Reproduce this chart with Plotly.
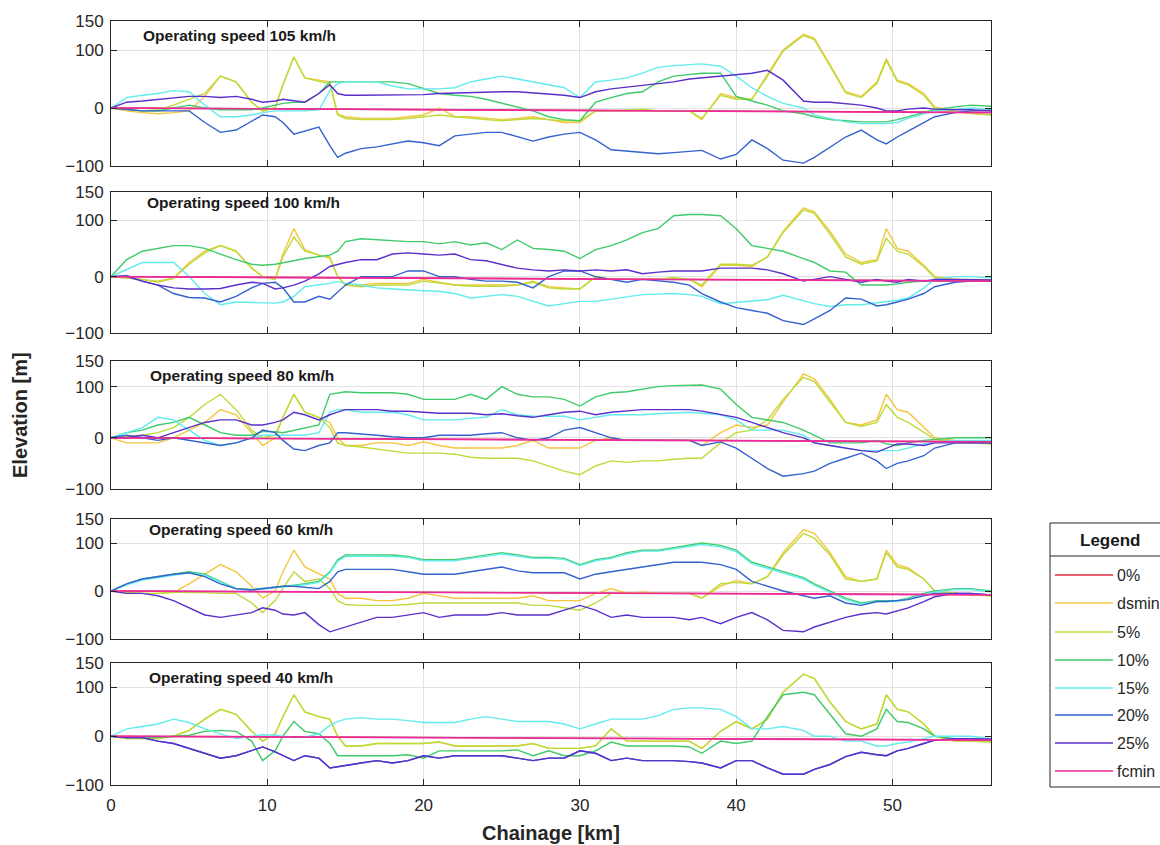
import plotly.graph_objects as go

# ---------------- data ----------------
KM = [0, 1, 2, 3, 4, 5, 6, 7, 8, 9,
      9.7, 10.5, 11, 11.7, 12.4, 13.3, 14, 14.5, 15, 16,
      17, 18, 19, 20, 21, 22, 23, 24, 25, 26,
      27, 28, 29, 30, 31, 32, 33, 34, 35, 36,
      37, 37.8, 39, 40, 41, 42, 43, 44.3, 45, 46,
      47, 48, 49, 49.6, 50.3, 51, 52, 52.7, 54, 55, 56.3]

FC_KM = [0, 14, 28, 42, 56.3]
FCMIN = [0, -2, -4, -6, -8]
ZERO_PCT = [0, -1.5, -3.5, -5.5, -7.5]

SERIES_NAMES = ["0%", "dsmin", "5%", "10%", "15%", "20%", "25%", "fcmin"]
PANEL_TITLES = ["Operating speed 105 km/h", "Operating speed 100 km/h",
                "Operating speed 80 km/h", "Operating speed 60 km/h",
                "Operating speed 40 km/h"]
X_TICKS = [0, 10, 20, 30, 40, 50]
Y_TICKS = [-100, 0, 100, 150]

# 105 km/h
V105_DSMIN = [0, -5, -8, -10, -8, -5, 20, 55, 45, 10,
              -5, 0, 40, 88, 52, 48, 45, -10, -15, -18,
              -18, -18, -15, -12, 0, -15, -15, -18, -20, -18,
              -15, -20, -25, -25, -5, -5, -5, -3, -5, -5,
              -5, -20, 25, 18, 15, 58, 100, 127, 120, 75,
              28, 20, 45, 85, 48, 42, 25, 2, -6, -9, -12]
V105_5 = [0, -3, -5, -3, 5, 15, 25, 55, 45, 10,
          -5, 0, 40, 88, 52, 46, 42, -12, -18, -20,
          -20, -20, -18, -15, -12, -15, -18, -20, -22, -20,
          -18, -20, -22, -22, -5, -5, -3, -2, -5, -5,
          -5, -18, 22, 15, 15, 55, 98, 125, 118, 72,
          26, 18, 42, 82, 46, 40, 22, 0, -6, -9, -12]
V105_10 = [0, -3, -5, -5, 0, 5, 0, -3, -3, -3,
           0, 5, 8, 10, 10, 25, 45, 45, 45, 45,
           45, 45, 42, 33, 25, 22, 20, 15, 8, 2,
           -5, -15, -20, -22, 10, 18, 25, 28, 45, 55,
           58, 60, 60, 20, 12, 5, -5, -10, -15, -20,
           -22, -24, -24, -24, -20, -15, -8, -3, 2, 5, 3]
V105_15 = [0, 18, 22, 25, 30, 28, 5, -15, -15, -12,
           -8, -5, -5, -5, -5, -3, 30, 42, 45, 45,
           45, 38, 33, 33, 33, 35, 45, 50, 55, 50,
           45, 40, 35, 18, 45, 48, 52, 60, 70, 73,
           75, 76, 72, 55, 35, 20, 8, 0, -12, -18,
           -24, -27, -27, -27, -25, -18, -10, -5, -2, 0, -2]
V105_20 = [0, -3, -5, -5, -5, -5, -25, -42, -38, -22,
           -12, -15, -25, -45, -40, -33, -65, -85, -78, -70,
           -67, -62, -57, -60, -65, -48, -45, -42, -42, -50,
           -57, -50, -45, -42, -55, -72, -74, -77, -79, -77,
           -75, -73, -88, -80, -55, -70, -90, -95, -85, -68,
           -50, -38, -55, -62, -50, -40, -25, -15, -8, -5, -4]
V105_25 = [0, 10, 12, 15, 18, 20, 20, 18, 20, 15,
           10, 12, 15, 12, 10, 25, 40, 25, 22, 22,
           22, 22, 22, 23, 25, 26, 27, 28, 28, 28,
           26, 25, 22, 18, 28, 33, 36, 40, 42, 45,
           50, 52, 55, 58, 60, 65, 48, 12, 10, 10,
           8, 5, 0, -5, -5, -2, 0, -2, -3, -3, -5]

# 100 km/h
V100_DSMIN = [0, -3, -5, -10, -3, 25, 45, 55, 45, 15,
              0, -5, 40, 85, 48, 38, 35, 0, -15, -15,
              -12, -12, -12, -5, -10, -15, -15, -15, -15, -15,
              -8, -18, -20, -22, 0, -5, -5, -5, -5, -2,
              -5, -18, 20, 20, 18, 35, 80, 122, 115, 80,
              40, 25, 30, 85, 50, 45, 20, 0, -5, -5, -6]
V100_5 = [0, -3, -5, -8, -3, 22, 42, 55, 45, 15,
          0, -5, 35, 70, 45, 38, 33, 0, -15, -18,
          -15, -15, -15, -8, -12, -15, -17, -17, -17, -15,
          -10, -20, -22, -22, 0, -5, -5, -5, -5, -2,
          -5, -15, 22, 22, 20, 35, 78, 118, 112, 75,
          35, 22, 28, 68, 45, 40, 18, -2, -7, -8, -8]
V100_10 = [0, 30, 45, 50, 55, 55, 50, 40, 30, 22,
           20, 22, 25, 28, 32, 36, 38, 45, 62, 67,
           65, 63, 62, 62, 58, 62, 56, 60, 48, 65,
           50, 48, 45, 32, 48, 55, 65, 78, 85, 108,
           110, 110, 108, 85, 55, 50, 45, 32, 25, 10,
           8, -15, -15, -15, -13, -10, -8, -8, -8, -8, -8]
V100_15 = [0, 12, 25, 25, 25, 0, -30, -50, -45, -46,
           -46, -47, -45, -35, -18, -15, -12, -9, -12, -15,
           -20, -22, -24, -25, -26, -30, -38, -35, -32, -35,
           -44, -52, -48, -44, -44, -40, -35, -32, -31, -30,
           -32, -35, -48, -46, -44, -41, -33, -42, -48, -53,
           -50, -50, -47, -45, -42, -38, -20, -5, 0, 0, -2]
V100_20 = [0, 2, -8, -15, -30, -37, -38, -45, -35, -20,
           -12, -10, -20, -45, -45, -35, -40, -28, -15, 0,
           0, 0, 10, 10, 0, 0, -5, -8, -8, -10,
           -20, 0, 10, 10, 0, -5, -10, -5, -8, -10,
           -15, -30, -45, -55, -60, -65, -78, -85, -75, -60,
           -38, -40, -52, -50, -45, -40, -30, -18, -10, -8, -8]
V100_25 = [0, 0, -8, -15, -20, -22, -22, -21, -15, -10,
           -12, -22, -20, -15, -8, 5, 18, 22, 25, 30,
           30, 40, 42, 40, 38, 40, 30, 28, 22, 15,
           12, 10, 12, 10, 12, 10, 12, 5, 8, 10,
           10, 10, 15, 15, 15, 12, 5, -8, -5, 0,
           -5, -10, -5, -8, -10, -5, -8, -5, -5, -5, -6]

# 80 km/h
V80_DSMIN = [0, -10, -10, -10, 0, 15, 30, 55, 45, 10,
             -15, 0, 40, 85, 50, 40, 30, 0, -15, -15,
             -10, -10, -15, -8, -15, -20, -20, -20, -20, -15,
             -5, -20, -20, -20, -5, 0, -5, -5, -5, -5,
             -5, -15, 10, 25, 20, 25, 70, 125, 115, 75,
             30, 25, 35, 85, 55, 50, 20, 0, -5, -8, -10]
V80_5 = [0, 3, 5, 10, 20, 40, 65, 85, 55, 15,
         0, 5, 40, 85, 50, 40, 20, -10, -15, -18,
         -22, -25, -30, -30, -30, -32, -38, -40, -40, -40,
         -45, -55, -65, -72, -55, -45, -48, -45, -45, -42,
         -40, -40, -10, 10, 15, 35, 75, 118, 110, 70,
         30, 22, 30, 65, 40, 30, 10, -3, -8, -10, -12]
V80_10 = [0, 10, 15, 25, 30, 40, 25, 10, 5, 5,
          12, 12, 10, 15, 20, 25, 85, 88, 90, 88,
          88, 88, 85, 75, 75, 75, 85, 75, 100, 85,
          80, 80, 75, 62, 80, 88, 90, 95, 100, 102,
          103, 103, 95, 65, 40, 35, 30, 15, 5, -10,
          -10, -10, -5, -12, -15, -10, -5, -3, 0, 0, 0]
V80_15 = [0, 10, 20, 40, 35, 15, -5, -15, -10, 0,
          5, 5, 5, 5, 5, 10, 50, 55, 55, 50,
          50, 50, 45, 35, 35, 35, 38, 40, 55, 45,
          42, 42, 42, 35, 40, 45, 45, 45, 47, 48,
          50, 48, 45, 35, 15, 15, 15, 5, -10, -15,
          -20, -25, -25, -25, -25, -20, -12, -8, -5, -5, -5]
V80_20 = [0, 5, 0, -5, 0, -5, -10, -15, -10, 0,
          15, 10, -5, -22, -25, -15, -10, 10, 10, 8,
          5, 2, 0, 0, 5, 5, 5, 8, 10, 0,
          -5, 0, 15, 20, 10, 0, -5, -5, -5, -5,
          -5, -15, -8, -20, -40, -60, -75, -70, -65, -50,
          -40, -30, -45, -60, -50, -45, -35, -20, -10, -10, -10]
V80_25 = [0, 0, 5, 0, 10, 20, 30, 35, 35, 25,
          25, 30, 35, 50, 45, 35, 45, 50, 55, 55,
          55, 52, 52, 50, 48, 48, 48, 45, 47, 43,
          40, 45, 50, 52, 45, 50, 53, 55, 55, 55,
          55, 52, 45, 40, 30, 20, 10, 0, -10, -15,
          -20, -25, -28, -20, -12, -12, -15, -10, -10, -10, -10]

# 60 km/h
V60_DSMIN = [0, -5, -5, -5, -3, 15, 35, 55, 40, 10,
             -15, 0, 40, 85, 50, 35, 25, -5, -15, -15,
             -20, -20, -15, -5, -10, -15, -15, -15, -15, -15,
             -10, -20, -20, -20, -5, 5, -5, -2, -5, -5,
             -5, -15, 10, 22, 15, 30, 80, 128, 120, 80,
             30, 20, 25, 85, 55, 48, 25, 0, -5, -8, -10]
V60_5 = [0, -3, -5, -5, -2, -3, -3, -5, -5, -25,
         -45, -20, 5, 40, 20, 25, 5, -20, -28, -30,
         -30, -30, -28, -25, -25, -25, -25, -25, -25, -25,
         -30, -30, -35, -40, -25, -5, -5, -5, -5, -5,
         -5, -15, 15, 18, 15, 30, 75, 120, 110, 75,
         25, 20, 25, 80, 50, 45, 25, 0, -5, -8, -10]
V60_10 = [0, 15, 25, 30, 35, 40, 35, 20, 5, 3,
          5, 8, 10, 12, 15, 20, 40, 65, 75, 75,
          75, 75, 72, 65, 65, 65, 70, 75, 80, 75,
          70, 70, 68, 55, 65, 70, 80, 85, 85, 90,
          95, 100, 95, 85, 60, 50, 40, 28, 15, 0,
          -15, -25, -20, -20, -20, -15, -5, 0, 5, 5, 0]
V60_15 = [0, 13, 23, 28, 33, 38, 33, 18, 4, 2,
          4, 7, 9, 10, 13, 18, 38, 62, 72, 73,
          73, 72, 70, 63, 63, 63, 68, 72, 77, 73,
          68, 68, 66, 53, 63, 68, 77, 83, 83, 88,
          93, 97, 92, 82, 57, 47, 37, 25, 12, -3,
          -18, -27, -22, -22, -22, -17, -7, -2, 3, 3, -2]
V60_20 = [0, 15, 25, 30, 35, 38, 30, 15, 5, 2,
          5, 8, 10, 10, 8, 5, 20, 40, 45, 45,
          45, 45, 40, 35, 35, 35, 40, 45, 50, 42,
          38, 38, 38, 25, 35, 40, 45, 50, 55, 60,
          60, 60, 55, 45, 20, 10, 0, -10, -15, -10,
          -25, -30, -22, -22, -20, -18, -10, -5, -5, -5, -8]
V60_25 = [0, -5, -5, -10, -20, -35, -50, -55, -50, -45,
          -35, -40, -48, -50, -45, -70, -85, -80, -75, -65,
          -55, -55, -50, -45, -55, -50, -50, -50, -45, -50,
          -50, -50, -40, -30, -40, -55, -50, -55, -55, -55,
          -60, -55, -68, -55, -45, -60, -82, -85, -75, -65,
          -55, -48, -45, -48, -42, -35, -22, -12, -5, -5, -8]

# 40 km/h
V40_DSMIN = [0, -5, -5, -5, 0, 12, 35, 55, 45, 10,
             -10, 5, 40, 85, 50, 40, 35, 0, -20, -20,
             -15, -15, -15, -15, -12, -20, -20, -20, -20, -20,
             -15, -25, -25, -25, -20, 15, -10, -10, -10, -10,
             -10, -25, 10, 30, 15, 35, 90, 127, 118, 70,
             30, 15, 25, 85, 55, 50, 25, 0, -10, -10, -12]
V40_5 = [0, -5, -5, -5, 0, 12, 35, 55, 45, 10,
         -10, 5, 40, 85, 50, 40, 35, 0, -20, -20,
         -15, -15, -15, -15, -12, -20, -20, -20, -20, -20,
         -15, -25, -25, -25, -20, 15, -10, -10, -10, -10,
         -10, -25, 10, 30, 15, 35, 90, 127, 118, 70,
         30, 15, 25, 85, 55, 50, 25, 0, -10, -10, -12]
V40_10 = [0, -3, -3, -3, 0, 2, 10, 12, 10, -10,
          -50, -30, 0, 30, 10, 5, -15, -40, -40, -40,
          -40, -40, -38, -45, -30, -30, -30, -30, -30, -28,
          -40, -30, -40, -40, -30, -12, -20, -20, -20, -20,
          -22, -35, -10, -15, -10, 40, 85, 90, 85, 45,
          5, 0, 15, 55, 30, 28, 15, 0, -5, -5, -8]
V40_15 = [0, 15, 20, 25, 35, 28, 15, 5, -5, 0,
          3, 2, 0, -3, -2, 5, 22, 30, 35, 38,
          35, 35, 32, 28, 28, 28, 35, 40, 35, 30,
          30, 30, 25, 15, 25, 35, 35, 35, 42, 55,
          58, 58, 55, 40, 15, 15, 20, 12, 0, 0,
          -10, -10, -20, -20, -15, -12, -5, 0, 0, 0, -5]
V40_20 = [0, -3, -3, -10, -15, -25, -35, -45, -40, -30,
          -22, -32, -40, -50, -40, -45, -65, -62, -60, -55,
          -50, -55, -50, -40, -45, -40, -40, -40, -40, -45,
          -50, -45, -45, -30, -35, -50, -45, -50, -50, -50,
          -52, -55, -65, -50, -50, -65, -78, -78, -68, -58,
          -42, -33, -38, -40, -30, -25, -15, -8, -5, -5, -6]
V40_25 = [0, -3, -3, -10, -15, -25, -35, -45, -40, -30,
          -22, -32, -40, -50, -40, -45, -65, -62, -60, -55,
          -50, -55, -50, -40, -45, -40, -40, -40, -40, -45,
          -50, -45, -45, -30, -35, -50, -45, -50, -50, -50,
          -52, -55, -65, -50, -50, -65, -78, -78, -68, -58,
          -42, -33, -38, -40, -30, -25, -15, -8, -5, -5, -6]

PANELS = [
    [V105_DSMIN, V105_5, V105_10, V105_15, V105_20, V105_25],
    [V100_DSMIN, V100_5, V100_10, V100_15, V100_20, V100_25],
    [V80_DSMIN, V80_5, V80_10, V80_15, V80_20, V80_25],
    [V60_DSMIN, V60_5, V60_10, V60_15, V60_20, V60_25],
    [V40_DSMIN, V40_5, V40_10, V40_15, V40_20, V40_25],
]

# ---------------- style ----------------
COLORS = {
    "0%": "#dc2c3c",
    "dsmin": "#f4c63e",
    "5%": "#bcdc3a",
    "10%": "#3fcb6a",
    "15%": "#62ecec",
    "20%": "#3462cf",
    "25%": "#5b2fcc",
    "fcmin": "#ec2a9c",
}
FONT = "Liberation Sans, Arial, Helvetica, sans-serif"
TXT = "#262626"

W, H = 1160, 845
PL, PR, PT, PB = 111, 991, 21, 785
PANEL_PX = [(21, 166), (192, 333), (361, 489), (519, 639), (663, 785)]
TITLE_PX = [(141, 36), (145, 203), (148, 375), (147, 529), (147, 677)]


def px_x(px):
    return (px - PL) / (PR - PL)


def px_y(py):
    return (PB - py) / (PB - PT)


fig = go.Figure()
layout = dict(
    width=W, height=H,
    margin=dict(l=PL, r=W - PR, t=PT, b=H - PB),
    paper_bgcolor="white", plot_bgcolor="white",
    showlegend=False,
    font=dict(family=FONT, size=17, color=TXT),
)

annotations = []
shapes = []

for i, series in enumerate(PANELS):
    n = i + 1
    xa = "x" if n == 1 else f"x{n}"
    ya = "y" if n == 1 else f"y{n}"
    fig.add_trace(go.Scatter(x=FC_KM, y=ZERO_PCT, mode="lines", name="0%",
                             line=dict(color=COLORS["0%"], width=1.4),
                             xaxis=xa, yaxis=ya))
    for name, vals in zip(SERIES_NAMES[1:7], series):
        fig.add_trace(go.Scatter(x=KM, y=vals, mode="lines", name=name,
                                 line=dict(color=COLORS[name], width=1.4),
                                 xaxis=xa, yaxis=ya))
    fig.add_trace(go.Scatter(x=FC_KM, y=FCMIN, mode="lines", name="fcmin",
                             line=dict(color=COLORS["fcmin"], width=1.6),
                             xaxis=xa, yaxis=ya))

    top, bot = PANEL_PX[i]
    layout[f"xaxis{'' if n == 1 else n}"] = dict(
        domain=[0, 1], anchor=ya, range=[0, 56.3],
        tickvals=X_TICKS, showticklabels=(n == 5),
        ticks="inside", ticklen=6, tickcolor=TXT, mirror="ticks",
        showline=True, linecolor=TXT, linewidth=1,
        showgrid=True, gridcolor="#e2e2e2", gridwidth=1, zeroline=False,
        tickfont=dict(family=FONT, size=17, color=TXT),
        ticklabelstandoff=5,
    )
    layout[f"yaxis{'' if n == 1 else n}"] = dict(
        domain=[px_y(bot), px_y(top)], anchor=xa, range=[-100, 150],
        tickvals=Y_TICKS,
        ticks="inside", ticklen=6, tickcolor=TXT, mirror="ticks",
        showline=True, linecolor=TXT, linewidth=1,
        showgrid=True, gridcolor="#e2e2e2", gridwidth=1, zeroline=False,
        tickfont=dict(family=FONT, size=17, color=TXT),
        ticklabelstandoff=3,
    )
    tx, ty = TITLE_PX[i]
    annotations.append(dict(
        text=f"<b>{PANEL_TITLES[i]}</b>", xref="paper", yref="paper",
        x=px_x(tx), y=px_y(ty), xanchor="left", yanchor="middle",
        showarrow=False, font=dict(family=FONT, size=15.5, color="#1a1a1a"),
    ))

# axis titles
annotations.append(dict(
    text="<b>Chainage [km]</b>", xref="paper", yref="paper",
    x=0.5, y=px_y(833), xanchor="center", yanchor="middle",
    showarrow=False, font=dict(family=FONT, size=20, color=TXT),
))
annotations.append(dict(
    text="<b>Elevation [m]</b>", xref="paper", yref="paper",
    x=px_x(20), y=px_y(415), xanchor="center", yanchor="middle",
    textangle=-90, showarrow=False, font=dict(family=FONT, size=20, color=TXT),
))

# legend box
LX0, LX1, LY0, LY1, LHEAD = 1050, 1185, 523, 787, 556
shapes.append(dict(type="rect", xref="paper", yref="paper",
                   x0=px_x(LX0), x1=px_x(LX1), y0=px_y(LY1), y1=px_y(LY0),
                   line=dict(color=TXT, width=1), fillcolor="white", layer="above"))
shapes.append(dict(type="line", xref="paper", yref="paper",
                   x0=px_x(LX0), x1=px_x(LX1), y0=px_y(LHEAD), y1=px_y(LHEAD),
                   line=dict(color=TXT, width=1), layer="above"))
annotations.append(dict(
    text="<b>Legend</b>", xref="paper", yref="paper",
    x=px_x(1110), y=px_y(540), xanchor="center", yanchor="middle",
    showarrow=False, font=dict(family=FONT, size=17, color="#1a1a1a"),
))
ITEM_Y = [575, 603, 632, 660, 688, 715, 743, 771]
for name, iy in zip(SERIES_NAMES, ITEM_Y):
    shapes.append(dict(type="line", xref="paper", yref="paper",
                       x0=px_x(1055), x1=px_x(1113), y0=px_y(iy), y1=px_y(iy),
                       line=dict(color=COLORS[name], width=1.4), layer="above"))
    annotations.append(dict(
        text=name, xref="paper", yref="paper",
        x=px_x(1115), y=px_y(iy), xanchor="left", yanchor="middle",
        showarrow=False, font=dict(family=FONT, size=16, color=TXT),
    ))

layout["annotations"] = annotations
layout["shapes"] = shapes
fig.update_layout(**layout)

fig.write_html("out.html")
